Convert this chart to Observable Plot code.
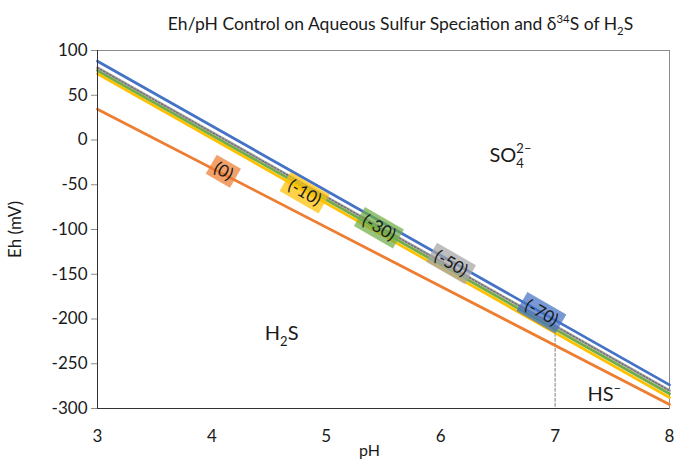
<!DOCTYPE html>
<html><head><meta charset="utf-8">
<script src="https://cdn.jsdelivr.net/npm/d3@7"></script>
<script src="https://cdn.jsdelivr.net/npm/@observablehq/plot@0.6"></script>
<style>body{margin:0;background:#fff}</style>
</head><body><div id="chart"></div>
<script>
// ---- data ----
const series = ["0", "-10", "-30", "-50", "-70"];
const colors = ["#ED7D31", "#FFC000", "#70AD47", "#A5A5A5", "#4472C4"];
const pH = [3, 8];
const EhAtPH3 = [34.4, 74.0, 77.7, 80.7, 88.0];
const EhAtPH8 = [-295.5, -287.7, -283.6, -279.9, -273.6];
const labelPH = [4.10, 4.81, 5.46, 6.09, 6.88];
const labelEh = [-35, -59, -98, -138, -193];
const regionText = ["SO_{4}^{2–}", "H_{2}S", "HS^{–}"];
const regionPH = [6.61, 4.61, 7.43];
const regionEh = [-17, -216, -285];
const boundaryPH = [7, 7];
const boundaryEh = [-216, -300];
const xTicks = [3, 4, 5, 6, 7, 8];
const yTicks = [-300, -250, -200, -150, -100, -50, 0, 50, 100];
const title = "Eh/pH Control on Aqueous Sulfur Speciation and δ^{34}S of H_{2}S";

// ---- tables ----
const lines = series.flatMap((s, i) => [
  {s, pH: pH[0], Eh: EhAtPH3[i]},
  {s, pH: pH[1], Eh: EhAtPH8[i]}
]);
const labels = series.map((s, i) => ({s, pH: labelPH[i], Eh: labelEh[i], text: `(${s})`}));
const regions = regionText.map((t, i) => ({t, pH: regionPH[i], Eh: regionEh[i]}));
const boundary = boundaryPH.map((p, i) => ({pH: p, Eh: boundaryEh[i]}));

function rotRect(w, h, deg) {
  const a = deg * Math.PI / 180, c = Math.cos(a), s = Math.sin(a);
  const pts = [[-w/2, -h/2], [w/2, -h/2], [w/2, h/2], [-w/2, h/2]]
    .map(([x, y]) => [x * c - y * s, x * s + y * c]);
  return {draw(ctx) { ctx.moveTo(pts[0][0], pts[0][1]); for (let i = 1; i < 4; i++) ctx.lineTo(pts[i][0], pts[i][1]); ctx.closePath(); }};
}

const ANG = 30;
const plot = Plot.plot({
  width: 676, height: 462,
  marginLeft: 97, marginRight: 7, marginTop: 50, marginBottom: 54,
  style: {fontFamily: "Lato, 'Open Sans', sans-serif", background: "#fff", color: "#1a1a1a"},
  x: {domain: [3, 8]},
  y: {domain: [-300, 100]},
  color: {domain: series, range: colors},
  marks: [
    Plot.frame({stroke: "#8c8c8c"}),
    Plot.line(boundary, {x: "pH", y: "Eh", stroke: "#7f7f7f", strokeWidth: 1, strokeDasharray: "3,2"}),
    Plot.line(lines, {x: "pH", y: "Eh", z: "s", stroke: "s", strokeWidth: 2.8}),
    Plot.line(lines.filter(d => d.s === "-50"), {x: "pH", y: "Eh", stroke: "#6a6a6a", strokeWidth: 1.2, strokeDasharray: "1.5,2"}),
    Plot.dot(labels.filter(d => d.s === "0"), {x: "pH", y: "Eh", fill: "s", fillOpacity: 0.72, stroke: null, symbol: rotRect(28, 22, ANG)}),
    Plot.dot(labels.filter(d => d.s !== "0"), {x: "pH", y: "Eh", fill: "s", fillOpacity: 0.72, stroke: null, symbol: rotRect(45, 22, ANG)}),
    Plot.text(labels, {x: "pH", y: "Eh", text: "text", rotate: ANG, fontSize: 17, fill: "#1a1a1a"}),
    Plot.text(regions, {x: "pH", y: "Eh", text: "t", fontSize: 20, fill: "#1a1a1a"}),
    Plot.ruleX([3], {stroke: "#333"}),
    Plot.ruleY([-300], {stroke: "#333"}),
    Plot.axisY({ticks: yTicks, tickFormat: d => String(d), tickSize: 6, tickPadding: 4, fontSize: 17, label: null, stroke: "#8c8c8c"}),
    Plot.axisX({ticks: xTicks, tickFormat: d => String(d), tickSize: 0, tickPadding: 21, fontSize: 17, label: null}),
    Plot.text(["Eh (mV)"], {frameAnchor: "left", dx: -82, rotate: -90, fontSize: 17, lineAnchor: "middle", textAnchor: "middle"}),
    Plot.text(["pH"], {frameAnchor: "bottom", dx: -14, dy: 42, fontSize: 16, lineAnchor: "middle", textAnchor: "middle"}),
    Plot.text([title], {frameAnchor: "top", dx: 17, dy: -26, fontSize: 17.5, lineAnchor: "middle", textAnchor: "middle"})
  ]
});
document.getElementById("chart").appendChild(plot);

// convert _{..} / ^{..} markup into sub/superscript tspans
const NS = "http://www.w3.org/2000/svg";
plot.querySelectorAll("text").forEach(el => {
  const s = el.textContent;
  if (!/[_^]\{/.test(s)) return;
  const base = parseFloat(getComputedStyle(el).fontSize) || 15;
  el.textContent = "";
  const re = /([_^])\{([^}]*)\}|([^_^]+)/g;
  let m, shift = 0, prev = "normal", prevW = 0;
  while ((m = re.exec(s))) {
    const type = m[1] ? (m[1] === "_" ? "sub" : "sup") : "normal";
    const txt = m[1] ? m[2] : m[3];
    const target = type === "sub" ? 0.3 * base : type === "sup" ? -0.42 * base : 0;
    const t = document.createElementNS(NS, "tspan");
    t.setAttribute("dy", target - shift);
    shift = target;
    if (type !== "normal") t.setAttribute("font-size", 0.65 * base);
    if (type === "sup" && prev === "sub") t.setAttribute("dx", -prevW);
    t.textContent = txt;
    el.appendChild(t);
    prevW = t.getComputedTextLength();
    prev = type;
  }
});
</script>
</body></html>
